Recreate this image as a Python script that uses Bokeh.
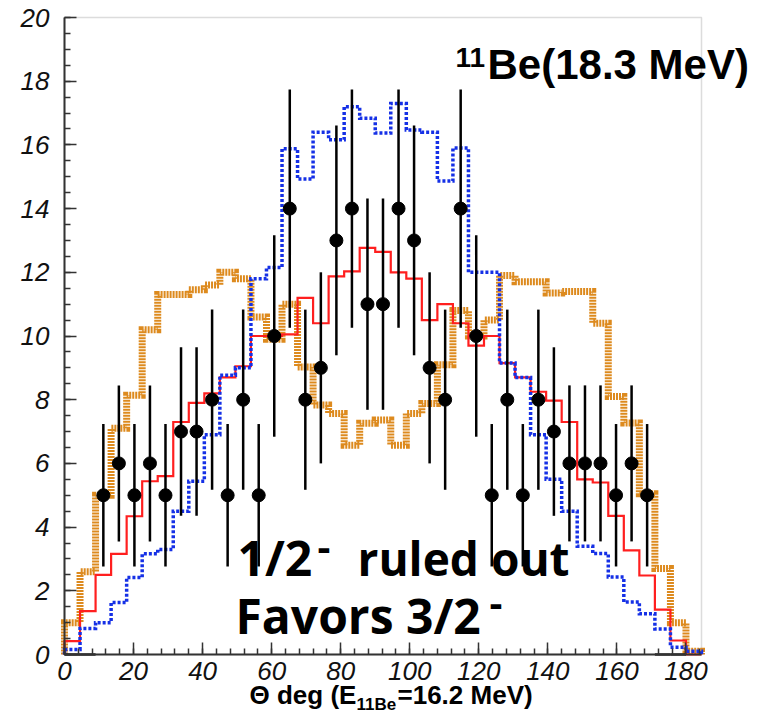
import numpy as np
from bokeh.plotting import figure
from bokeh.models import Range1d, FixedTicker, Label, BoxAnnotation
from bokeh.core.enums import CoordinateUnits
from bokeh.embed import file_html
from bokeh.resources import INLINE

# ---------------- data ----------------
bin_width = 4.5
n_bins = 41  # 0 .. 184.5 deg

red_vals = [0.42, 1.36, 2.5, 3.16, 4.34, 5.44, 5.6, 7.3, 7.9, 8.2,
            8.7, 9.05, 10.0, 10.0, 10.05, 11.2, 10.4, 11.87, 12.03, 12.77,
            12.64, 12.0, 11.8, 10.5, 11.0, 10.4, 9.7, 10.0, 9.15, 8.7,
            8.25, 7.97, 7.3, 5.5, 5.4, 4.35, 3.27, 2.48, 1.41, 0.44, 0.0]

blue_vals = [0.16, 0.82, 1.0, 1.63, 2.42, 3.16, 3.3, 4.5, 5.44, 6.9,
             8.77, 9.0, 11.8, 12.15, 15.88, 14.93, 16.4, 16.16, 17.2, 16.84,
             16.37, 17.3, 16.47, 16.4, 14.87, 15.9, 12.0, 12.0, 9.15, 8.7,
             6.9, 5.5, 4.5, 3.4, 3.17, 2.43, 1.65, 1.28, 0.8, 0.23, 0.1]

orange_vals = [1.0, 2.6, 5.0, 7.1, 8.14, 10.2, 11.3, 11.3, 11.45, 11.6,
               12.0, 11.8, 10.6, 9.9, 11.0, 9.03, 7.83, 7.57, 6.57, 7.26,
               7.36, 6.57, 7.57, 7.88, 9.1, 10.8, 10.0, 10.5, 11.9, 11.7,
               11.7, 11.35, 11.4, 11.4, 10.4, 8.1, 7.27, 5.05, 2.7, 1.0, 0.1]

data_counts = [0, 0, 5, 6, 5, 6, 5, 7, 7, 8,
               5, 8, 5, 10, 14, 8, 9, 13, 14, 11,
               11, 14, 13, 9, 8, 14, 10, 5, 8, 5,
               8, 7, 6, 6, 6, 5, 6, 5, 0, 0]

x_ticks = [0, 20, 40, 60, 80, 100, 120, 140, 160, 180]
y_ticks = [0, 2, 4, 6, 8, 10, 12, 14, 16, 18, 20]

X_MAX = 184.5
Y_MAX = 20.0

# ---------------- layout ----------------
W, H = 762, 715
FL, FR, FT, FB = 64, 701, 17, 654          # pixel box of the axes
XPX = (FR - FL) / X_MAX
YPX = (FB - FT) / Y_MAX

UNITS = "canvas" if "canvas" in CoordinateUnits else "screen"


def pos(px, py):
    return dict(x=px, y=py, x_units=UNITS, y_units=UNITS)


edges = np.arange(n_bins + 1) * bin_width


def outline(vals):
    xs = [0.0]
    ys = [0.0]
    for k, v in enumerate(vals):
        xs += [edges[k], edges[k + 1]]
        ys += [v, v]
    xs.append(edges[len(vals)])
    ys.append(0.0)
    return xs, ys


p = figure(width=W, height=H, output_backend="svg", toolbar_location=None,
           x_range=Range1d(-FL / XPX, (W - FL) / XPX),
           y_range=Range1d(-(H - FB) / YPX, Y_MAX + FT / YPX),
           min_border_left=0, min_border_right=0,
           min_border_top=0, min_border_bottom=0)

p.background_fill_color = "white"
p.border_fill_color = "white"
p.xgrid.visible = False
p.ygrid.visible = False
p.outline_line_color = None

# box (grey frame)
p.add_layout(BoxAnnotation(left=0, right=X_MAX, bottom=0, top=Y_MAX,
                           fill_color=None, line_color="#8a8a8a", line_width=1.5,
                           level="underlay"))

# histograms
ox, oy = outline(orange_vals)
p.line(ox, oy, line_color="#DD8A1E", line_width=7, line_dash="2 1", line_join="miter")
rx, ry = outline(red_vals)
p.line(rx, ry, line_color="#FF1F1F", line_width=2.2, line_join="miter")
bx, by = outline(blue_vals)
p.line(bx, by, line_color="#1530E6", line_width=3.5, line_dash="3 2", line_join="miter")

# data points with Poisson errors
centers = edges[:40] + bin_width / 2
cnt = np.array(data_counts, dtype=float)
mask = cnt > 0
err = np.sqrt(cnt)
p.segment(centers[mask], cnt[mask] - err[mask], centers[mask], cnt[mask] + err[mask],
          line_color="black", line_width=2.5)
p.scatter(centers[mask], cnt[mask], marker="circle", size=13, color="black")
zero = ~mask
p.segment(edges[:40][zero], cnt[zero], edges[1:41][zero], cnt[zero],
          line_color="#222222", line_width=2.5)

# axes drawn at the data origin
p.xaxis.fixed_location = 0
p.yaxis.fixed_location = 0
p.xaxis.bounds = (0, X_MAX)
p.yaxis.bounds = (0, Y_MAX)
for ax in (p.xaxis[0], p.yaxis[0]):
    ax.axis_line_color = "#333333"
    ax.axis_line_width = 2
    ax.major_tick_line_color = "#333333"
    ax.minor_tick_line_color = "#333333"
    ax.major_tick_line_width = 1.5
    ax.minor_tick_line_width = 1.5
    ax.major_tick_in = 12
    ax.major_tick_out = 0
    ax.minor_tick_in = 6
    ax.minor_tick_out = 0
    ax.major_label_text_font = "Liberation Sans"
    ax.major_label_text_font_style = "italic"
    ax.major_label_text_font_size = "26px"
    ax.major_label_text_color = "#111111"

p.xaxis.ticker = FixedTicker(ticks=x_ticks, minor_ticks=list(np.arange(0, 184.5, 4.0)))
p.yaxis.ticker = FixedTicker(ticks=y_ticks, minor_ticks=list(np.arange(0, 20.01, 0.5)))
p.xaxis.major_label_standoff = 7
p.yaxis.major_label_standoff = 15


def add_text(px, py, text, font, size, style="bold"):
    p.add_layout(Label(text=text, text_font=font, text_font_style=style,
                       text_font_size=size, text_color="black",
                       text_baseline="middle", **pos(px, py)))


# title (y = vertical centre of the text)
add_text(455, 57, "11", "Liberation Sans", "28px")
add_text(487, 64, "Be(18.3 MeV)", "Liberation Sans", "42px")

# annotation text
note_font = "Open Sans"
add_text(237, 557, "1/2", note_font, "48px")
add_text(317, 546, "-", note_font, "40px")
add_text(357, 557, "ruled out", note_font, "46px")
add_text(235, 615, "Favors 3/2", note_font, "48px")
add_text(489, 602, "-", note_font, "40px")

# x-axis title with subscript
add_text(249, 694, "\u0398 deg (E", "Liberation Sans", "26px")
add_text(356, 704, "11Be", "Liberation Sans", "17px")
add_text(397, 694, "=16.2 MeV)", "Liberation Sans", "26px")

open("out.html", "w").write(file_html(p, INLINE))
